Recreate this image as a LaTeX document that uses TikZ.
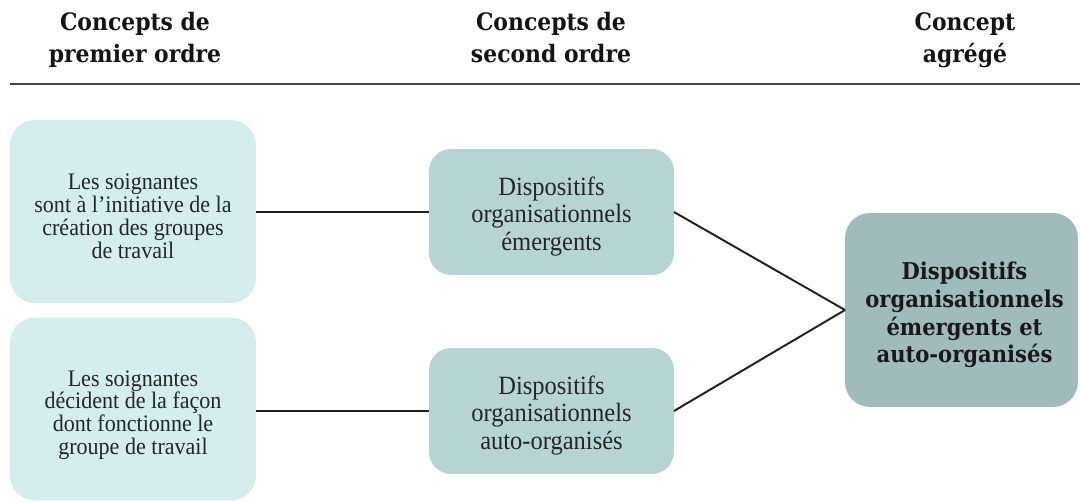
\documentclass[tikz,border=0pt]{standalone}
\usepackage{fontspec}
\setmainfont{Liberation Serif}
\newfontfamily\bodyfont[FakeStretch=0.93]{Liberation Serif}
\newfontfamily\headfont[FakeStretch=0.91]{DejaVu Serif}
\begin{document}
\begin{tikzpicture}[x=0.02cm,y=-0.02cm,
  every node/.style={inner sep=0pt, outer sep=0pt},
  head/.style={align=center, font=\headfont\bfseries\fontsize{13.7}{18}\selectfont, text=black!92},
  bx/.style={rounded corners=0.5cm},
  lbox/.style={bx, fill=lcol, minimum width=4.92cm, minimum height=3.66cm},
  mbox/.style={bx, fill=mcol, rounded corners=0.44cm, minimum width=4.9cm, minimum height=2.52cm},
  rbox/.style={bx, fill=rcol, minimum width=4.66cm, minimum height=3.88cm},
  ltext/.style={align=center, font=\bodyfont\fontsize{13.5}{13}\selectfont, text=black!85},
  mtext/.style={align=center, font=\bodyfont\fontsize{15}{15.6}\selectfont, text=black!85},
  rtext/.style={align=center, font=\headfont\bfseries\fontsize{13.2}{15.7}\selectfont, text=black!90},
  link/.style={draw=black!88, line width=1.1pt}
]
\definecolor{lcol}{HTML}{D4EEF0}
\definecolor{mcol}{HTML}{B7D4D5}
\definecolor{rcol}{HTML}{9FBBBC}
\useasboundingbox (0,0) rectangle (1080,502);

\node[head] (h1) at (135,40) {\vphantom{dp}Concepts de\\\vphantom{dp}premier ordre};
\node[head] (h2) at (551,40) {\vphantom{dp}Concepts de\\\vphantom{dp}second ordre};
\node[head] (h3) at (965,40) {\vphantom{dp}Concept\\\vphantom{dp}agrégé};
\coordinate (rl) at (10,84);
\coordinate (rr) at (1080,84);
\draw[draw=black!72, line width=1.4pt] (rl) -- (rr);

\node[lbox] (l1) at (133,211.5) {};
\node[lbox] (l2) at (133,409) {};
\node[mbox] (m1) at (551.5,212) {};
\node[mbox] (m2) at (551.5,411) {};
\node[rbox] (r) at (961.5,310) {};

\node[ltext] (l1t) at ([yshift=-7*0.02cm]l1.center) {\vphantom{Lg}Les soignantes\\sont à l’initiative de la\\création des groupes\\\vphantom{Lg}de travail};
\node[ltext] (l2t) at ([yshift=-6*0.02cm]l2.center) {\vphantom{Lg}Les soignantes\\décident de la façon\\dont fonctionne le\\\vphantom{Lg}groupe de travail};
\node[mtext] (m1t) at ([yshift=-4.5*0.02cm]m1.center) {\vphantom{Lg}Dispositifs\\organisationnels\\\vphantom{Lg}émergents};
\node[mtext] (m2t) at ([yshift=-4.5*0.02cm]m2.center) {\vphantom{Lg}Dispositifs\\organisationnels\\\vphantom{Lg}auto-organisés};
\node[rtext] (rt) at ([xshift=3*0.02cm,yshift=-5*0.02cm]r.center) {\vphantom{Lg}Dispositifs\\organisationnels\\émergents et\\\vphantom{Lg}auto-organisés};

\draw[link] (l1.east |- m1.west) -- (m1.west);
\draw[link] (l2.east |- m2.west) -- (m2.west);
\draw[link] (m1.east) -- (r.west);
\draw[link] (m2.east) -- (r.west);
\end{tikzpicture}
\end{document}
